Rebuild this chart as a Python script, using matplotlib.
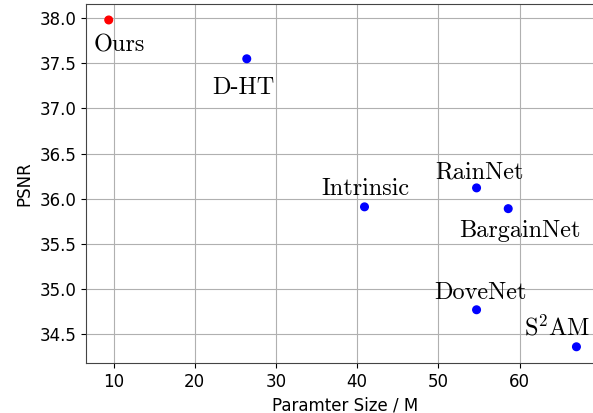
import matplotlib

matplotlib.use("Agg")
import matplotlib.pyplot as plt

# Parameter size (M) vs PSNR for each method
methods = ["Ours", "D-HT", "Intrinsic", "RainNet", "BargainNet", "DoveNet", r"S$^2$AM"]
params = [9.4, 26.4, 40.9, 54.7, 58.6, 54.7, 67.0]
psnr = [37.98, 37.55, 35.91, 36.12, 35.89, 34.77, 34.36]
colors = ["red", "blue", "blue", "blue", "blue", "blue", "blue"]

# label offsets from the marker, in pixels (x right, y up)
label_offsets = [(11, -25), (-3, -29), (1, 18), (3, 15), (12, -22), (4, 17), (-19, 19)]

DPI = 100
plt.rcParams["mathtext.fontset"] = "cm"

fig = plt.figure(figsize=(5.93, 4.13), dpi=DPI)
# axes runs past the right edge of the canvas, as in the reference crop
ax = fig.add_axes([0.145, 0.121, 0.875, 0.870])

ax.grid(True, color="#b0b0b0", linewidth=0.8, zorder=0)
ax.set_axisbelow(True)
ax.scatter(params, psnr, c=colors, s=30, zorder=3)

px2pt = 72.0 / DPI
for name, x, y, (dx, dy) in zip(methods, params, psnr, label_offsets):
    ax.annotate(
        name, xy=(x, y), xytext=(dx * px2pt, dy * px2pt),
        textcoords="offset points", ha="center", va="center",
        fontsize=17.5, family="cmr10",
    )

ax.set_xlim(6.6, 70.5)
ax.set_ylim(34.18, 38.16)
ax.set_xticks([10, 20, 30, 40, 50, 60])
ax.set_yticks([34.5, 35.0, 35.5, 36.0, 36.5, 37.0, 37.5, 38.0])
ax.tick_params(labelsize=12)
ax.set_xlabel("Paramter Size / M", fontsize=12)
ax.set_ylabel("PSNR", fontsize=12)

for s in ax.spines.values():
    s.set_color("#444444")

fig.savefig("out.png", dpi=DPI)
